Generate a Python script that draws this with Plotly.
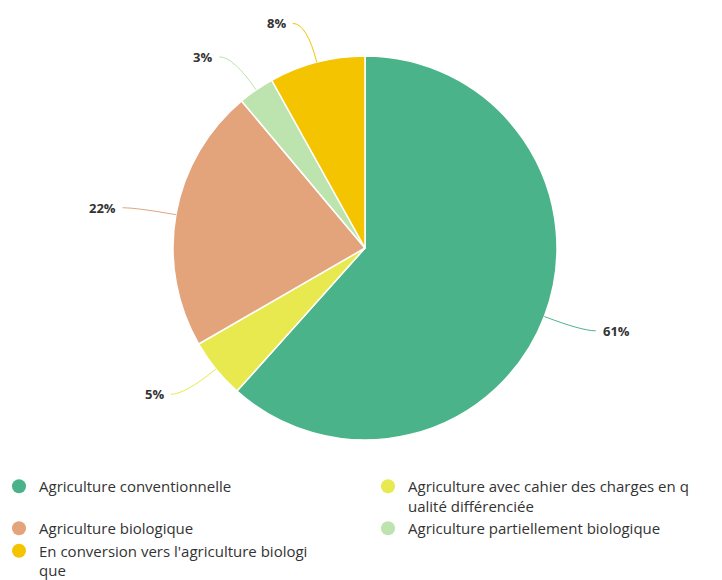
import math
import plotly.graph_objects as go

# data
labels = [
    "Agriculture conventionnelle",
    "Agriculture avec cahier des charges en q<br>ualité différenciée",
    "Agriculture biologique",
    "Agriculture partiellement biologique",
    "En conversion vers l'agriculture biologi<br>que",
]
values = [61, 5, 22, 3, 8]
colors = ["#4bb38a", "#e8e84f", "#e3a47c", "#bde3ae", "#f5c400"]
legend_col = ["legend", "legend2", "legend", "legend2", "legend"]

OFF = 8            # page body margin
W, H = 722 - OFF, 580 - OFF
cx, cy, r = 365, 248, 192  # pie centre/radius in screen px


def to_paper(px, py):
    return (px - OFF) / W, 1 - (py - OFF) / H


fig = go.Figure()

x0, y1 = to_paper(cx - r, cy - r)
x1, y0 = to_paper(cx + r, cy + r)
fig.add_trace(go.Pie(
    labels=labels, values=values,
    marker=dict(colors=colors, line=dict(color="white", width=1.5)),
    sort=False, direction="clockwise", rotation=0,
    textinfo="none", hoverinfo="label+value",
    showlegend=False,
    domain=dict(x=[x0, x1], y=[y0, y1]),
))

# legend entries with round symbols, split over two columns
for lab, col, lg in zip(labels, colors, legend_col):
    # keep first row of the left column as tall as the wrapped one on the right
    name = lab + "<br> " if lab == labels[0] else lab
    fig.add_trace(go.Scatter(
        x=[None], y=[None], mode="markers", name=name, legend=lg,
        marker=dict(color=col, size=14, symbol="circle"),
    ))

# outside labels with curved connectors, placed from the slice mid-angles
total = sum(values)
cum = 0
for v, col in zip(values, colors):
    mid = (cum + v / 2) / total * 2 * math.pi
    cum += v
    sx, sy = math.sin(mid), -math.cos(mid)
    ex, ey = cx + r * sx, cy + r * sy
    ax, ay = cx + (r + 40) * sx, cy + (r + 40) * sy
    side = 1 if sx >= 0 else -1
    tx, ty = ax + 14 * side, ay
    p = [to_paper(*pt) for pt in [(ex, ey), (ax, ay), (tx, ty)]]
    fig.add_shape(
        type="path", xref="paper", yref="paper",
        path=f"M {p[0][0]},{p[0][1]} Q {p[1][0]},{p[1][1]} {p[2][0]},{p[2][1]}",
        line=dict(color=col, width=1),
    )
    lx, ly = to_paper(tx + 5 * side, ty)
    fig.add_annotation(
        x=lx, y=ly, xref="paper", yref="paper",
        text=f"<b>{v}%</b>", showarrow=False,
        xanchor="left" if side > 0 else "right", yanchor="middle",
        font=dict(family="Open Sans", size=13, color="#333333"),
    )

legend_style = dict(
    yanchor="top", xanchor="left", valign="top",
    indentation=-9,
    font=dict(family="Open Sans", size=15, color="#333333"),
    itemclick=False, itemdoubleclick=False,
    bgcolor="rgba(0,0,0,0)",
)
ytop = 1 - (470 - OFF) / H

fig.update_layout(
    width=W, height=H,
    margin=dict(l=0, r=0, t=0, b=0, autoexpand=False),
    paper_bgcolor="white", plot_bgcolor="white",
    xaxis=dict(visible=False), yaxis=dict(visible=False),
    showlegend=True,
    legend=dict(x=0, y=ytop, **legend_style),
    legend2=dict(x=(388 - OFF - 11) / W, y=ytop, **legend_style),
)

fig.write_html("out.html")
